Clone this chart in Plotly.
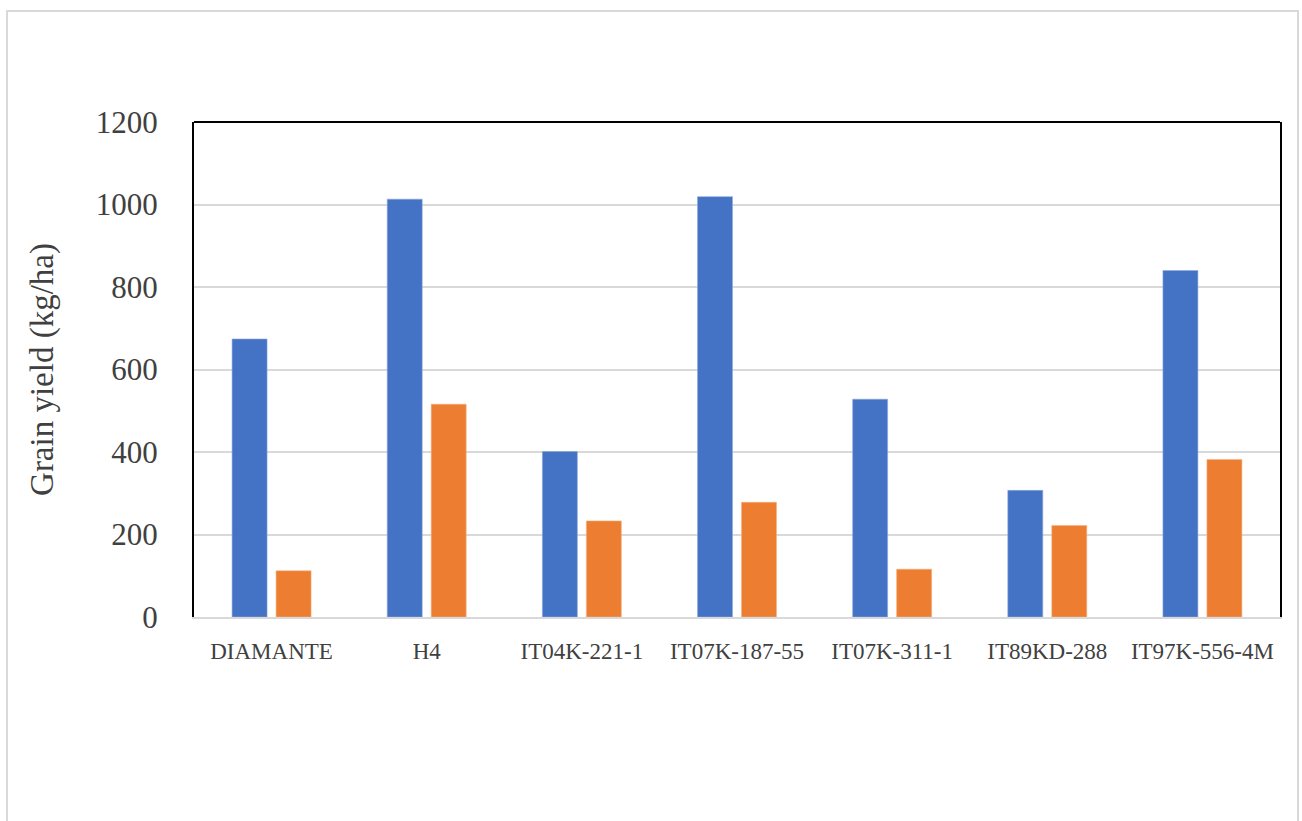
import plotly.graph_objects as go

categories = ["DIAMANTE", "H4", "IT04K-221-1", "IT07K-187-55", "IT07K-311-1", "IT89KD-288", "IT97K-556-4M"]
series_a = [674, 1013, 401, 1019, 528, 307, 840]
series_b = [112, 516, 233, 278, 116, 222, 382]
y_ticks = [0, 200, 400, 600, 800, 1000, 1200]

FONT = "Liberation Serif, DejaVu Serif, serif"
TXT = "#404040"

fig = go.Figure()
fig.add_trace(go.Bar(x=categories, y=series_a, name="Series 1",
                     marker=dict(color="#4472C4", line=dict(color="#8faadc", width=0.6))))
fig.add_trace(go.Bar(x=categories, y=series_b, name="Series 2",
                     marker=dict(color="#ED7D31", line=dict(color="#f4b183", width=0.6))))

fig.update_layout(
    width=1302, height=821,
    margin=dict(l=194, r=22, t=122, b=204),
    paper_bgcolor="white", plot_bgcolor="white",
    barmode="group", bargap=0.433, bargroupgap=0.2045,
    showlegend=False,
    font=dict(family=FONT, color=TXT),
)
fig.update_xaxes(
    showline=True, linecolor="#d9d9d9", linewidth=2,
    showgrid=False, ticks="", ticklabelstandoff=12,
    tickfont=dict(family=FONT, size=23, color=TXT),
)
fig.update_yaxes(
    range=[0, 1200], tickvals=y_ticks,
    showline=True, linecolor="black", linewidth=2, mirror=True,
    showgrid=True, gridcolor="#d9d9d9", gridwidth=1.5,
    zeroline=False, ticks="", ticklabelstandoff=28,
    tickfont=dict(family=FONT, size=31, color=TXT),
    title=dict(text="Grain yield (kg/ha)", font=dict(family=FONT, size=33, color=TXT), standoff=32),
)
# top border of plot area
fig.add_shape(type="line", xref="paper", yref="paper", x0=0, x1=1, y0=1, y1=1,
              line=dict(color="black", width=2))
# outer chart-area border
fig.add_shape(type="rect", xref="paper", yref="paper",
              x0=(7 - 194) / 1086, x1=(1298 - 194) / 1086,
              y0=(617 - 840) / 495, y1=(617 - 11) / 495,
              line=dict(color="#d9d9d9", width=2))

fig.write_html("out.html")
